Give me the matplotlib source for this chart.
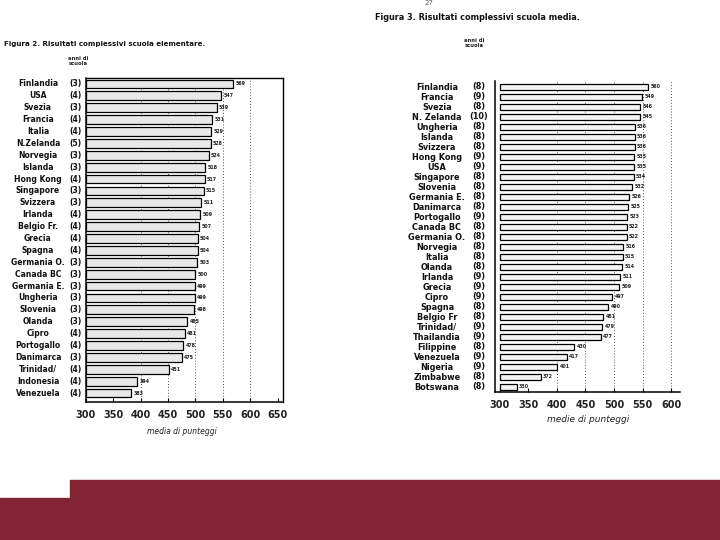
import matplotlib.pyplot as plt
import matplotlib.transforms as mtransforms
from matplotlib.patches import Rectangle

W, H = 720, 540

# scuola elementare (left figure)
elem_countries = ["Finlandia", "USA", "Svezia", "Francia", "Italia", "N.Zelanda",
                  "Norvegia", "Islanda", "Hong Kong", "Singapore", "Svizzera",
                  "Irlanda", "Belgio Fr.", "Grecia", "Spagna", "Germania O.",
                  "Canada BC", "Germania E.", "Ungheria", "Slovenia", "Olanda",
                  "Cipro", "Portogallo", "Danimarca", "Trinidad/", "Indonesia",
                  "Venezuela"]
elem_years = [3, 4, 3, 4, 4, 5, 3, 3, 4, 3, 3, 4, 4, 4, 4, 3, 3, 3, 3, 3, 3,
              4, 4, 3, 4, 4, 4]
elem_scores = [569, 547, 539, 531, 529, 528, 524, 518, 517, 515, 511, 509, 507,
               504, 504, 503, 500, 499, 499, 498, 485, 481, 478, 475, 451, 394,
               383]
elem_ticks = [300, 350, 400, 450, 500, 550, 600, 650]

# scuola media (right figure)
media_countries = ["Finlandia", "Francia", "Svezia", "N. Zelanda", "Ungheria",
                   "Islanda", "Svizzera", "Hong Kong", "USA", "Singapore",
                   "Slovenia", "Germania E.", "Danimarca", "Portogallo",
                   "Canada BC", "Germania O.", "Norvegia", "Italia", "Olanda",
                   "Irlanda", "Grecia", "Cipro", "Spagna", "Belgio Fr",
                   "Trinidad/", "Thailandia", "Filippine", "Venezuela",
                   "Nigeria", "Zimbabwe", "Botswana"]
media_years = [8, 9, 8, 10, 8, 8, 8, 9, 9, 8, 8, 8, 8, 9, 8, 8, 8, 8, 8, 9, 9,
               9, 8, 8, 9, 9, 8, 9, 9, 8, 8]
media_scores = [560, 549, 546, 545, 536, 536, 536, 535, 535, 534, 532, 526, 525,
                523, 522, 522, 516, 515, 514, 511, 509, 497, 490, 481, 479, 477,
                430, 417, 401, 372, 330]
media_ticks = [300, 350, 400, 450, 500, 550, 600]

MAROON = "#832434"


def px_axes(fig, x0, y0, x1, y1):
    # pixel box (top-left origin) -> figure axes
    return fig.add_axes([x0 / W, 1 - y1 / H, (x1 - x0) / W, (y1 - y0) / H])


def draw_chart(fig, ax, countries, years, scores, ticks, grid, name_x, year_x,
               fsize, face, bar_h, full_box):
    n = len(countries)
    pos = list(range(n))
    for t in grid:
        ax.axvline(t, color="#555555", lw=0.7, ls=(0, (1, 2)), zorder=1)
    ax.barh(pos, [s - 300 for s in scores], left=300, height=bar_h,
            color=face, edgecolor="black", linewidth=0.9, zorder=2)
    for p, s in zip(pos, scores):
        ax.text(s + 4, p, str(s), fontsize=3.4, fontweight="bold",
                va="center", ha="left", color="#222222")
    ax.set_xticks(ticks)
    ax.set_xticklabels([str(t) for t in ticks], fontsize=7, fontweight="bold",
                       color="#222222")
    ax.tick_params(axis="x", direction="in", length=3, pad=6, width=0.8)
    ax.set_yticks([])
    for side in ["left", "bottom"]:
        ax.spines[side].set_linewidth(1.1)
    for side in ["top", "right"]:
        ax.spines[side].set_visible(full_box)
        ax.spines[side].set_linewidth(1.0)
    tr = mtransforms.blended_transform_factory(fig.transFigure, ax.transData)
    for p, c, y in zip(pos, countries, years):
        ax.text(name_x / W, p, c, transform=tr, ha="center", va="center",
                fontsize=fsize, fontweight="bold", color="#111111")
        ax.text(year_x / W, p, f"({y})", transform=tr, ha="center",
                va="center", fontsize=fsize, fontweight="bold",
                color="#111111")


fig = plt.figure(figsize=(7.2, 5.4), dpi=100)
fig.patch.set_facecolor("white")

ax1 = px_axes(fig, 86, 78, 283, 402)
ax1.set_xlim(300, 660)
ax1.set_ylim(len(elem_scores) - 0.25, -0.5)
draw_chart(fig, ax1, elem_countries, elem_years, elem_scores, elem_ticks,
           elem_ticks[2:-1], 38, 75, 5.5, "#e8e8e8", 0.74, True)

ax2 = px_axes(fig, 495, 81, 680, 392)
ax2.set_xlim(292, 615)
ax2.set_ylim(len(media_scores) - 0.5, -0.6)
draw_chart(fig, ax2, media_countries, media_years, media_scores, media_ticks,
           media_ticks[2:], 437, 479, 5.9, "#f4f4f4", 0.66, False)


def ftext(x, y, s, **kw):
    fig.text(x / W, 1 - y / H, s, **kw)


ftext(4, 44, "Figura 2. Risultati complessivi scuola elementare.",
      fontsize=5.1, fontweight="bold", va="center", color="#111111")
ftext(375, 17, "Figura 3. Risultati complessivi scuola media.",
      fontsize=5.9, fontweight="bold", va="center", color="#111111")
ftext(429, 3, "27", fontsize=5, va="center", ha="center", color="#666666")
ftext(78, 61, "anni di\nscuola", fontsize=3.8, fontweight="bold",
      ha="center", va="center", linespacing=0.9, color="#222222")
ftext(474, 43, "anni di\nscuola", fontsize=3.8, fontweight="bold",
      ha="center", va="center", linespacing=0.9, color="#222222")
ftext(182, 432, "media di punteggi", fontsize=5.5, style="italic",
      ha="center", va="center", color="#222222")
ftext(588, 420, "medie di punteggi", fontsize=6.5, style="italic",
      ha="center", va="center", color="#222222")

# slide footer band
fig.patches.append(Rectangle((70 / W, 0), 1 - 70 / W, 60 / H,
                             transform=fig.transFigure, color=MAROON,
                             zorder=0))
fig.patches.append(Rectangle((0, 0), 70 / W, 42 / H,
                             transform=fig.transFigure, color=MAROON,
                             zorder=0))

fig.savefig("out.png", dpi=100)
